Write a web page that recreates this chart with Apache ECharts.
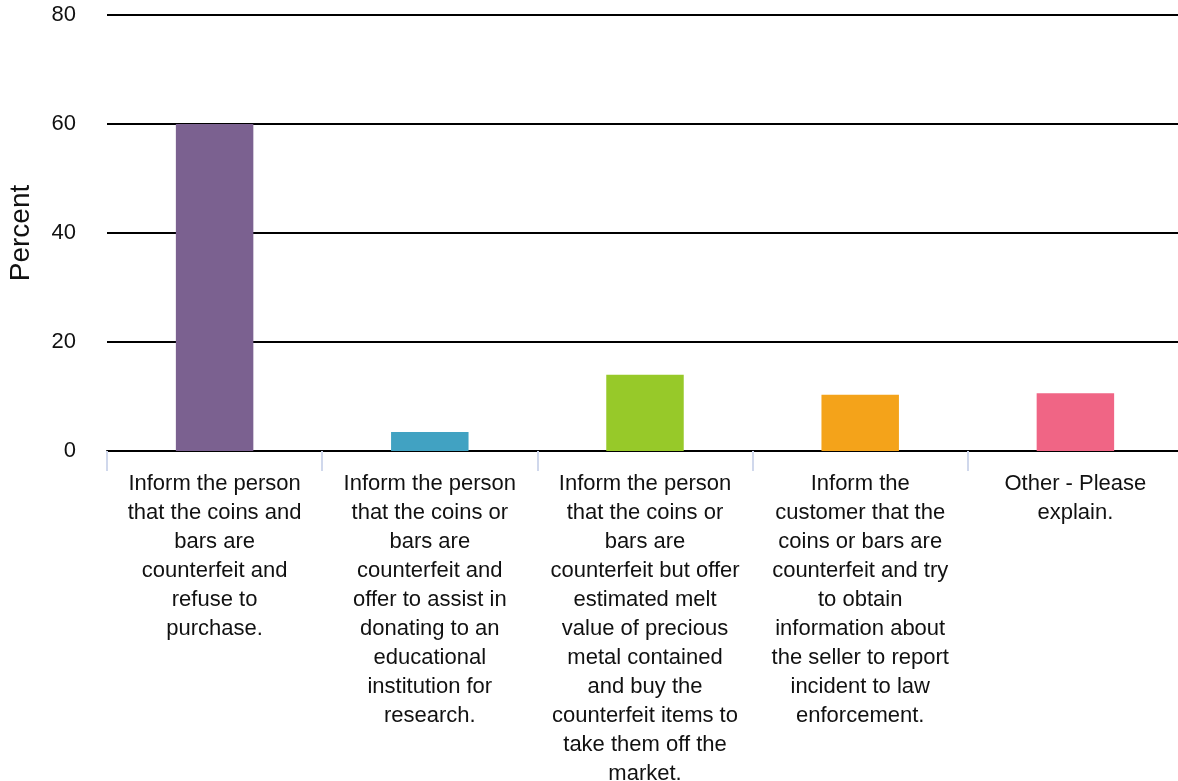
<!DOCTYPE html>
<html>
<head>
<meta charset="utf-8">
<script src="https://cdn.jsdelivr.net/npm/echarts@6/dist/echarts.min.js"></script>
<style>html,body{margin:0;padding:0;background:#fff;}#c{width:1178px;height:781px;}</style>
</head>
<body>
<div id="c"></div>
<script>
const categories = [
  "Inform the person\nthat the coins and\nbars are\ncounterfeit and\nrefuse to\npurchase.",
  "Inform the person\nthat the coins or\nbars are\ncounterfeit and\noffer to assist in\ndonating to an\neducational\ninstitution for\nresearch.",
  "Inform the person\nthat the coins or\nbars are\ncounterfeit but offer\nestimated melt\nvalue of precious\nmetal contained\nand buy the\ncounterfeit items to\ntake them off the\nmarket.",
  "Inform the\ncustomer that the\ncoins or bars are\ncounterfeit and try\nto obtain\ninformation about\nthe seller to report\nincident to law\nenforcement.",
  "Other - Please\nexplain."
];
const values = [60, 3.5, 14.0, 10.3, 10.6];
const colors = ["#7b6190", "#41a2c2", "#97c929", "#f4a31a", "#f06585"];
const yTicks = [0, 20, 40, 60, 80];

const chart = echarts.init(document.getElementById('c'), null, {renderer: 'canvas'});
chart.setOption({
  animation: false,
  textStyle: {fontFamily: 'Liberation Sans, Arial, sans-serif'},
  grid: {left: 107, right: -5, top: 15, bottom: 330, containLabel: false, outerBoundsMode: 'none'},
  xAxis: {
    type: 'category',
    data: categories,
    axisLine: {show: true, lineStyle: {color: '#000', width: 2}},
    axisTick: {show: true, length: 20, lineStyle: {color: '#d0d8ec', width: 2}},
    axisLabel: {color: '#111', fontSize: 22, lineHeight: 29, margin: 18, interval: 0}
  },
  yAxis: {
    type: 'value',
    min: yTicks[0], max: yTicks[yTicks.length - 1], interval: 20,
    name: 'Percent', nameLocation: 'middle', nameRotate: 90, nameGap: 72,
    nameTextStyle: {color: '#111', fontSize: 28},
    axisLine: {show: false},
    axisTick: {show: false},
    axisLabel: {color: '#111', fontSize: 22, margin: 31},
    splitLine: {show: true, lineStyle: {color: '#000', width: 2}}
  },
  series: [{
    type: 'bar',
    data: values.map((v, i) => ({value: v, itemStyle: {color: colors[i]}})),
    barWidth: '36%'
  }]
});
</script>
</body>
</html>
